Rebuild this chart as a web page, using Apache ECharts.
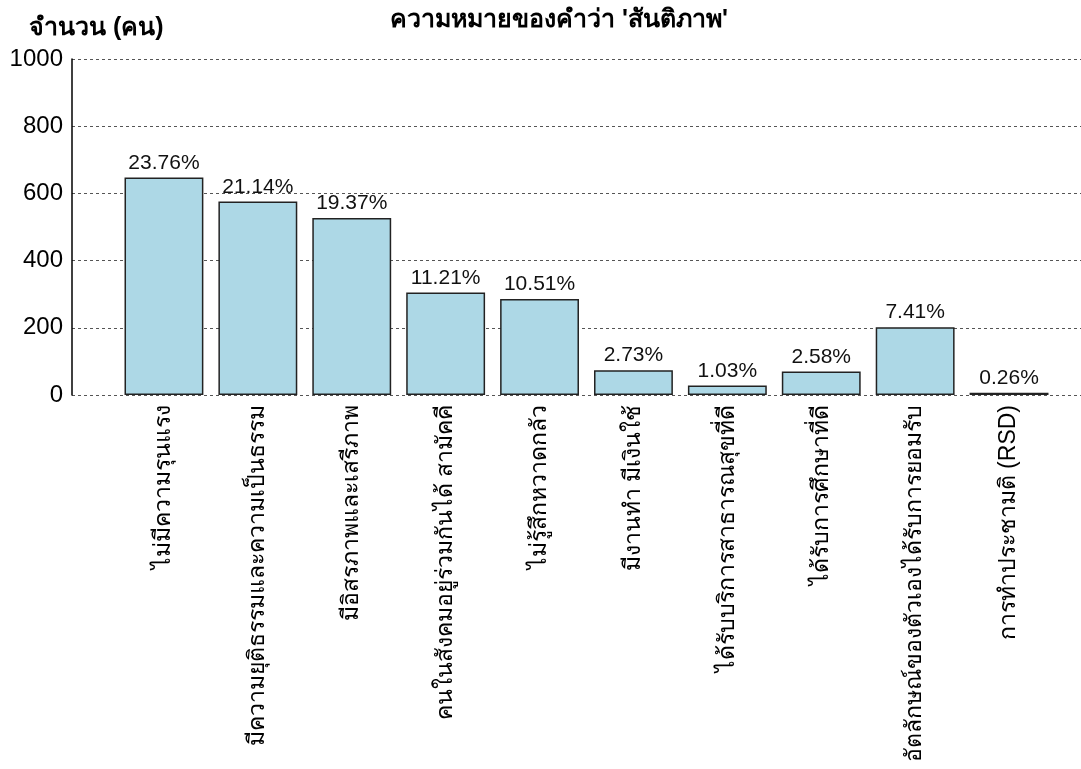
<!DOCTYPE html>
<html>
<head>
<meta charset="utf-8">
<script src="https://cdn.jsdelivr.net/npm/echarts@6/dist/echarts.min.js"></script>
<style>
html,body{margin:0;padding:0;background:#fff;}
#chart{width:1081px;height:769px;}
</style>
</head>
<body>
<div id="chart"></div>
<script>
const categories = [
  'ไม่มีความรุนแรง',
  'มีความยุติธรรมและความเป็นธรรม',
  'มีอิสรภาพและเสรีภาพ',
  'คนในสังคมอยู่ร่วมกันได้ สามัคคี',
  'ไม่รู้สึกหวาดกลัว',
  'มีงานทำ มีเงินใช้',
  'ได้รับบริการสาธารณสุขที่ดี',
  'ได้รับการศึกษาที่ดี',
  'อัตลักษณ์ของตัวเองได้รับการยอมรับ',
  'การทำประชามติ (RSD)'
];
const counts = [647, 576, 527, 305, 286, 74, 28, 70, 202, 7];
const percentLabels = ['23.76%', '21.14%', '19.37%', '11.21%', '10.51%', '2.73%', '1.03%', '2.58%', '7.41%', '0.26%'];
const yTicks = [0, 200, 400, 600, 800, 1000];

const FONT = 'Tahoma, "Liberation Sans", Arial, sans-serif';
const chart = echarts.init(document.getElementById('chart'), null, {renderer: 'canvas'});
chart.setOption({
  animation: false,
  backgroundColor: '#ffffff',
  textStyle: {fontFamily: FONT},
  title: [
    {text: "ความหมายของคำว่า 'สันติภาพ'", left: 385, top: 3,
     textStyle: {fontSize: 25, fontWeight: 'bold', color: '#000', fontFamily: FONT}},
    {text: 'จำนวน (คน)', left: 24, top: 11,
     textStyle: {fontSize: 25, fontWeight: 'bold', color: '#000', fontFamily: FONT}}
  ],
  grid: [
    {left: 72, right: 0, top: 59, bottom: 374, containLabel: false},
    {left: 117, right: 25, top: 59, bottom: 374, containLabel: false}
  ],
  xAxis: [
    {type: 'value', gridIndex: 0, show: false, min: 0, max: 1},
    {type: 'category', gridIndex: 1, data: categories,
     axisLine: {show: false}, axisTick: {show: false},
     axisLabel: {rotate: 90, interval: 0, margin: 10, fontSize: 23, color: '#000', fontFamily: FONT}}
  ],
  yAxis: [
    {type: 'value', gridIndex: 0, min: yTicks[0], max: yTicks[yTicks.length-1], interval: 200,
     axisLine: {show: true, lineStyle: {color: '#000', width: 1.5}},
     axisTick: {show: false},
     axisLabel: {fontSize: 24, color: '#000', margin: 9, formatter: v => String(v),
       fontFamily: '"Liberation Sans", Arial, sans-serif'},
     splitLine: {show: true, lineStyle: {color: '#555', type: [3, 3], width: 1}}},
    {type: 'value', gridIndex: 1, min: 0, max: 1000, show: false, splitLine: {show: false}}
  ],
  series: [{
    type: 'bar', xAxisIndex: 1, yAxisIndex: 1,
    data: counts, barCategoryGap: '16%',
    itemStyle: {color: '#ADD8E6', borderColor: '#222', borderWidth: 1.5},
    label: {show: true, position: 'top', distance: 4,
      formatter: p => percentLabels[p.dataIndex],
      fontSize: 21, color: '#111', fontFamily: '"Liberation Sans", Arial, sans-serif'}
  }]
});
</script>
</body>
</html>
